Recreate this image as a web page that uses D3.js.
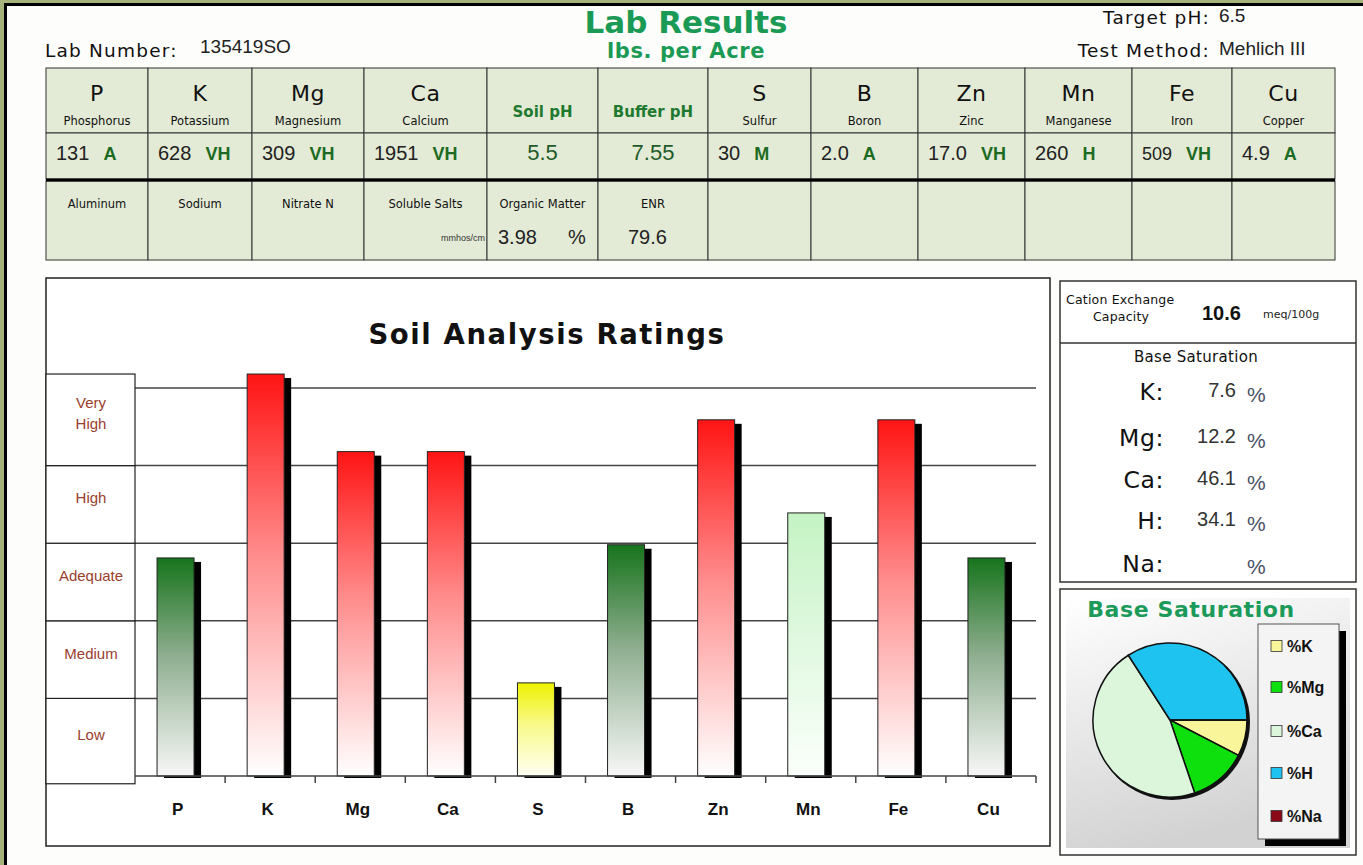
<!DOCTYPE html>
<html>
<head>
<meta charset="utf-8">
<title>Lab Results</title>
<script src="https://cdn.jsdelivr.net/npm/d3@7"></script>
<style>
body { margin: 0; background: #a6b47b; overflow: hidden; }
svg { display: block; }
.sq { font-family: "DejaVu Sans", Verdana, sans-serif; }
.ar { font-family: "Liberation Sans", Arial, sans-serif; }
</style>
</head>
<body>
<div id="chart"></div>
<script>
// Report header
const labNumber = "135419SO";
const targetPH = "6.5";
const testMethod = "Mehlich III";

// Nutrient table (12 columns)
const symbols = ["P", "K", "Mg", "Ca", "Soil pH", "Buffer pH", "S", "B", "Zn", "Mn", "Fe", "Cu"];
const fullNames = ["Phosphorus", "Potassium", "Magnesium", "Calcium", "", "", "Sulfur", "Boron", "Zinc", "Manganese", "Iron", "Copper"];
const results = ["131", "628", "309", "1951", "5.5", "7.55", "30", "2.0", "17.0", "260", "509", "4.9"];
const resultRatings = ["A", "VH", "VH", "VH", "", "", "M", "A", "VH", "H", "VH", "A"];
const extraLabels = ["Aluminum", "Sodium", "Nitrate N", "Soluble Salts", "Organic Matter", "ENR", "", "", "", "", "", ""];
const extraValues = ["", "", "", "", "3.98", "79.6", "", "", "", "", "", ""];

// Ratings bar chart
const elements = ["P", "K", "Mg", "Ca", "S", "B", "Zn", "Mn", "Fe", "Cu"];
const ratingCodes = ["A", "VH", "VH", "VH", "M", "A", "VH", "H", "VH", "A"];
const ratingLevels = [2.81, 5.18, 4.18, 4.18, 1.2, 2.98, 4.59, 3.39, 4.59, 2.81];
const ratingBands = ["Low", "Medium", "Adequate", "High", "Very High"];

// Base saturation
const cec = "10.6";
const satIons = ["K", "Mg", "Ca", "H", "Na"];
const satValues = [7.6, 12.2, 46.1, 34.1, null];

//----Layout----
const W = 1363, H = 865;
const colWidths = [102, 104, 112, 123, 111, 110, 103, 107, 107, 107, 100, 103];
const colX = [46];
colWidths.forEach((w, i) => colX.push(colX[i] + w));

const svg = d3.select("#chart")
    .append("svg")
    .attr("width", W)
    .attr("height", H);

const defs = svg.append("defs");

// bar gradients, one per rating code
const barFills = {
    VH: ["#ff1414", "#ff8c8c", "#ffffff"],
    A: ["#17741c", "#8fae90", "#f7f7f7"],
    M: ["#eef200", "#f8f98a", "#fffff4"],
    H: ["#c4f3c4", "#def8de", "#fbfffb"]
};
Object.keys(barFills).forEach(k => {
    const g = defs.append("linearGradient")
        .attr("id", "grad" + k)
        .attr("x1", 0).attr("y1", 0).attr("x2", 0).attr("y2", 1);
    g.append("stop").attr("offset", "0%").attr("stop-color", barFills[k][0]);
    g.append("stop").attr("offset", "45%").attr("stop-color", barFills[k][1]);
    g.append("stop").attr("offset", "100%").attr("stop-color", barFills[k][2]);
});

const pieBg = defs.append("linearGradient")
    .attr("id", "pieBg")
    .attr("x1", 0).attr("y1", 0).attr("x2", 0.3).attr("y2", 1);
pieBg.append("stop").attr("offset", "0%").attr("stop-color", "#ffffff");
pieBg.append("stop").attr("offset", "100%").attr("stop-color", "#d2d2d2");

// page with black frame
svg.append("rect")
    .attr("x", 5.5).attr("y", 4.5)
    .attr("width", W).attr("height", H)
    .attr("fill", "#fdfdfb")
    .attr("stroke", "#000")
    .attr("stroke-width", 3);

//----Header----
svg.append("text").attr("class", "sq")
    .attr("x", 45).attr("y", 57)
    .attr("font-size", 18.5).attr("letter-spacing", 1.2).attr("fill", "#111")
    .text("Lab Number:");
svg.append("text").attr("class", "ar")
    .attr("x", 200).attr("y", 53)
    .attr("font-size", 19).attr("fill", "#222")
    .text(labNumber);

svg.append("text").attr("class", "sq")
    .attr("x", 686).attr("y", 33)
    .attr("text-anchor", "middle")
    .attr("font-size", 31).attr("font-weight", "bold")
    .attr("fill", "#1b9a55")
    .text("Lab Results");
svg.append("text").attr("class", "sq")
    .attr("x", 686).attr("y", 58)
    .attr("text-anchor", "middle")
    .attr("font-size", 21).attr("font-weight", "bold")
    .attr("letter-spacing", 0.6)
    .attr("fill", "#1b9a55")
    .text("lbs. per Acre");

svg.append("text").attr("class", "sq")
    .attr("x", 1210).attr("y", 24)
    .attr("text-anchor", "end")
    .attr("font-size", 18.5).attr("letter-spacing", 1.2).attr("fill", "#111")
    .text("Target pH:");
svg.append("text").attr("class", "ar")
    .attr("x", 1219).attr("y", 22)
    .attr("font-size", 19).attr("fill", "#222")
    .text(targetPH);
svg.append("text").attr("class", "sq")
    .attr("x", 1210).attr("y", 57)
    .attr("text-anchor", "end")
    .attr("font-size", 18.5).attr("letter-spacing", 1.2).attr("fill", "#111")
    .text("Test Method:");
svg.append("text").attr("class", "ar")
    .attr("x", 1219).attr("y", 55)
    .attr("font-size", 19).attr("fill", "#222")
    .text(testMethod);

//----Table----
const table = svg.append("g");
const rowEdges = [[68, 133], [133, 179], [181, 260]];

symbols.forEach((sym, i) => {
    const x0 = colX[i], x1 = colX[i + 1], cx = (x0 + x1) / 2;
    rowEdges.forEach(([t, b]) => {
        table.append("rect")
            .attr("x", x0).attr("y", t)
            .attr("width", x1 - x0).attr("height", b - t)
            .attr("fill", "#e3ebd6")
            .attr("stroke", "#333")
            .attr("stroke-width", 1);
    });

    if (fullNames[i]) {
        table.append("text").attr("class", "sq")
            .attr("x", cx).attr("y", 101)
            .attr("text-anchor", "middle")
            .attr("font-size", 22).attr("letter-spacing", 0.5).attr("fill", "#111")
            .text(sym);
        table.append("text").attr("class", "sq")
            .attr("x", cx).attr("y", 125)
            .attr("text-anchor", "middle")
            .attr("font-size", 11.5).attr("fill", "#111")
            .text(fullNames[i]);
        const t = table.append("text").attr("class", "ar")
            .attr("x", x0 + 10).attr("y", 160);
        t.append("tspan")
            .attr("font-size", i === 10 ? 18 : 20).attr("fill", "#222")
            .text(results[i]);
        t.append("tspan")
            .attr("dx", 14)
            .attr("font-size", 18).attr("font-weight", "bold")
            .attr("fill", "#1d6b22")
            .text(resultRatings[i]);
    } else {
        table.append("text").attr("class", "sq")
            .attr("x", cx).attr("y", 117)
            .attr("text-anchor", "middle")
            .attr("font-size", 15).attr("font-weight", "bold")
            .attr("fill", "#1f7a30")
            .text(sym);
        table.append("text").attr("class", "ar")
            .attr("x", cx).attr("y", 160)
            .attr("text-anchor", "middle")
            .attr("font-size", 22).attr("fill", "#1e5a28")
            .text(results[i]);
    }

    if (extraLabels[i]) {
        table.append("text").attr("class", "sq")
            .attr("x", cx).attr("y", 208)
            .attr("text-anchor", "middle")
            .attr("font-size", 11.5).attr("fill", "#111")
            .text(extraLabels[i]);
    }
});

// soluble salts unit, organic matter and ENR values
table.append("text").attr("class", "ar")
    .attr("x", colX[4] - 2).attr("y", 241)
    .attr("text-anchor", "end")
    .attr("font-size", 9).attr("fill", "#333")
    .text("mmhos/cm");
table.append("text").attr("class", "ar")
    .attr("x", colX[4] + 11).attr("y", 244)
    .attr("font-size", 20).attr("fill", "#222")
    .text(extraValues[4]);
table.append("text").attr("class", "ar")
    .attr("x", colX[4] + 81).attr("y", 244)
    .attr("font-size", 20).attr("fill", "#222")
    .text("%");
table.append("text").attr("class", "ar")
    .attr("x", colX[5] + 30).attr("y", 244)
    .attr("font-size", 20).attr("fill", "#222")
    .text(extraValues[5]);

// thick separator under the results row
table.append("line")
    .attr("x1", colX[0]).attr("x2", colX[12])
    .attr("y1", 180).attr("y2", 180)
    .attr("stroke", "#000").attr("stroke-width", 3);

//----Bar chart----
svg.append("rect")
    .attr("x", 46).attr("y", 278)
    .attr("width", 1004).attr("height", 568)
    .attr("fill", "#fff")
    .attr("stroke", "#222").attr("stroke-width", 1.5);

svg.append("text").attr("class", "sq")
    .attr("x", 547).attr("y", 344)
    .attr("text-anchor", "middle")
    .attr("font-size", 27.5).attr("font-weight", "bold")
    .attr("letter-spacing", 1.6)
    .attr("fill", "#111")
    .text("Soil Analysis Ratings");

const xScale = d3.scaleBand().domain(elements).range([135, 1036]);
const yScale = d3.scaleLinear().domain([0, 5]).range([776, 388]);

// gridlines
svg.append("g")
    .selectAll("line")
    .data([1, 2, 3, 4, 5])
    .enter()
    .append("line")
    .attr("x1", 135).attr("x2", 1036)
    .attr("y1", d => yScale(d)).attr("y2", d => yScale(d))
    .attr("stroke", "#444").attr("stroke-width", 1.5);

// rating label boxes on the left
const bandTop = i => yScale(i === 4 ? 5.18 : i + 1);
const bandBottom = i => yScale(i === 0 ? -0.1 : i);
const bandG = svg.append("g");
ratingBands.forEach((band, i) => {
    bandG.append("rect")
        .attr("x", 46).attr("y", bandTop(i))
        .attr("width", 89).attr("height", bandBottom(i) - bandTop(i))
        .attr("fill", "#fff")
        .attr("stroke", "#222").attr("stroke-width", 1.2);
    const mid = (bandTop(i) + bandBottom(i)) / 2 - 1;
    const words = band === "Very High" ? ["Very", "High"] : [band];
    words.forEach((w, j) => {
        bandG.append("text").attr("class", "ar")
            .attr("x", 91)
            .attr("y", mid + (j - (words.length - 1) / 2) * 21)
            .attr("text-anchor", "middle")
            .attr("font-size", 15).attr("fill", "#9a3e2e")
            .text(w);
    });
});

// bars with drop shadows
const barW = 37;
const barX = d => xScale(d) + xScale.bandwidth() / 2 - 23;
const bars = svg.append("g")
    .selectAll("g")
    .data(elements)
    .enter()
    .append("g");

bars.append("rect")
    .attr("x", d => barX(d) + 7)
    .attr("y", (d, i) => yScale(ratingLevels[i]) + 4)
    .attr("width", barW)
    .attr("height", (d, i) => yScale(0) + 2 - (yScale(ratingLevels[i]) + 4))
    .attr("fill", "#000");

bars.append("rect")
    .attr("x", d => barX(d))
    .attr("y", (d, i) => yScale(ratingLevels[i]))
    .attr("width", barW)
    .attr("height", (d, i) => yScale(0) - yScale(ratingLevels[i]))
    .attr("fill", (d, i) => `url(#grad${ratingCodes[i]})`)
    .attr("stroke", "#222").attr("stroke-width", 1);

// x axis: baseline, boundary ticks, labels
const axisG = svg.append("g");
axisG.append("line")
    .attr("x1", 135).attr("x2", 1036)
    .attr("y1", yScale(0)).attr("y2", yScale(0))
    .attr("stroke", "#444").attr("stroke-width", 1.5);
axisG.selectAll(".tick")
    .data(elements)
    .enter()
    .append("line")
    .attr("x1", d => xScale(d) + xScale.bandwidth())
    .attr("x2", d => xScale(d) + xScale.bandwidth())
    .attr("y1", yScale(0)).attr("y2", yScale(0) + 7)
    .attr("stroke", "#444").attr("stroke-width", 1.5);
axisG.selectAll(".lbl")
    .data(elements)
    .enter()
    .append("text").attr("class", "ar")
    .attr("x", d => barX(d) + barW / 2 + 2)
    .attr("y", 815)
    .attr("text-anchor", "middle")
    .attr("font-size", 17).attr("font-weight", "bold")
    .attr("fill", "#111")
    .text(d => d);

//----Cation exchange / base saturation panel----
const side = svg.append("g");
side.append("rect")
    .attr("x", 1060).attr("y", 281)
    .attr("width", 296).attr("height", 301)
    .attr("fill", "#fff")
    .attr("stroke", "#333").attr("stroke-width", 1.5);
side.append("line")
    .attr("x1", 1060).attr("x2", 1356)
    .attr("y1", 343).attr("y2", 343)
    .attr("stroke", "#333").attr("stroke-width", 1.5);

side.append("text").attr("class", "sq")
    .attr("x", 1066).attr("y", 304)
    .attr("font-size", 12.5).attr("letter-spacing", 0.2).attr("fill", "#111")
    .text("Cation Exchange");
side.append("text").attr("class", "sq")
    .attr("x", 1121).attr("y", 321)
    .attr("text-anchor", "middle")
    .attr("font-size", 12.5).attr("letter-spacing", 0.2).attr("fill", "#111")
    .text("Capacity");
side.append("text").attr("class", "ar")
    .attr("x", 1202).attr("y", 320)
    .attr("font-size", 20).attr("font-weight", "bold")
    .attr("fill", "#111")
    .text(cec);
side.append("text").attr("class", "sq")
    .attr("x", 1263).attr("y", 318)
    .attr("font-size", 11).attr("fill", "#222")
    .text("meq/100g");
side.append("text").attr("class", "sq")
    .attr("x", 1196).attr("y", 362)
    .attr("text-anchor", "middle")
    .attr("font-size", 15).attr("letter-spacing", 0.3).attr("fill", "#111")
    .text("Base Saturation");

const satRowY = [392, 438, 480, 521, 564];
satIons.forEach((ion, i) => {
    side.append("text").attr("class", "sq")
        .attr("x", 1164).attr("y", satRowY[i] + 8)
        .attr("text-anchor", "end")
        .attr("font-size", 23.5).attr("letter-spacing", 0.6).attr("fill", "#111")
        .text(ion + ":");
    side.append("text").attr("class", "ar")
        .attr("x", 1236).attr("y", satRowY[i] + 5)
        .attr("text-anchor", "end")
        .attr("font-size", 20).attr("fill", "#333")
        .text(satValues[i] === null ? "" : satValues[i].toFixed(1));
    side.append("text").attr("class", "ar")
        .attr("x", 1247).attr("y", satRowY[i] + 10)
        .attr("font-size", 21).attr("fill", "#4a5066")
        .text("%");
});

//----Pie----
const pieBox = svg.append("g");
pieBox.append("rect")
    .attr("x", 1060).attr("y", 589)
    .attr("width", 296).attr("height", 266)
    .attr("fill", "#fff")
    .attr("stroke", "#333").attr("stroke-width", 1.5);
pieBox.append("rect")
    .attr("x", 1066).attr("y", 598)
    .attr("width", 284).attr("height", 250)
    .attr("fill", "url(#pieBg)");
pieBox.append("text").attr("class", "sq")
    .attr("x", 1191).attr("y", 617)
    .attr("text-anchor", "middle")
    .attr("font-size", 22).attr("font-weight", "bold")
    .attr("letter-spacing", 0.6)
    .attr("fill", "#1b9a5a")
    .text("Base Saturation");

const satColors = d3.scaleOrdinal()
    .domain(satIons)
    .range(["#f8f59a", "#0ee00e", "#dcf6dc", "#1fc3f0", "#8b0a1a"]);

const pie = d3.pie()
    .sort(null)
    .value(d => d || 0)
    .startAngle(Math.PI / 2)
    .endAngle(Math.PI / 2 + 2 * Math.PI);
const arc = d3.arc().innerRadius(0).outerRadius(77);

const pieG = pieBox.append("g")
    .attr("transform", "translate(1170, 720)");
pieG.append("circle")
    .attr("cx", 2).attr("cy", 2).attr("r", 78)
    .attr("fill", "#111");
pieG.selectAll("path")
    .data(pie(satValues))
    .enter()
    .append("path")
    .attr("d", arc)
    .attr("fill", (d, i) => satColors(satIons[i]))
    .attr("stroke", "#111")
    .attr("stroke-width", 1.5);

// legend
const legend = pieBox.append("g");
legend.append("rect")
    .attr("x", 1265).attr("y", 631)
    .attr("width", 81).attr("height", 215)
    .attr("fill", "#000");
legend.append("rect")
    .attr("x", 1258).attr("y", 624)
    .attr("width", 81).attr("height", 215)
    .attr("fill", "#f4f4f4")
    .attr("stroke", "#555").attr("stroke-width", 1);
const legendY = [646, 687, 731, 773, 816];
satIons.forEach((ion, i) => {
    legend.append("rect")
        .attr("x", 1271).attr("y", legendY[i] - 5.5)
        .attr("width", 11).attr("height", 11)
        .attr("fill", satColors(ion))
        .attr("stroke", "#333").attr("stroke-width", 0.8);
    legend.append("text").attr("class", "ar")
        .attr("x", 1287).attr("y", legendY[i] + 6)
        .attr("font-size", 16).attr("font-weight", "bold")
        .attr("fill", "#111")
        .text("%" + ion);
});
</script>
</body>
</html>
